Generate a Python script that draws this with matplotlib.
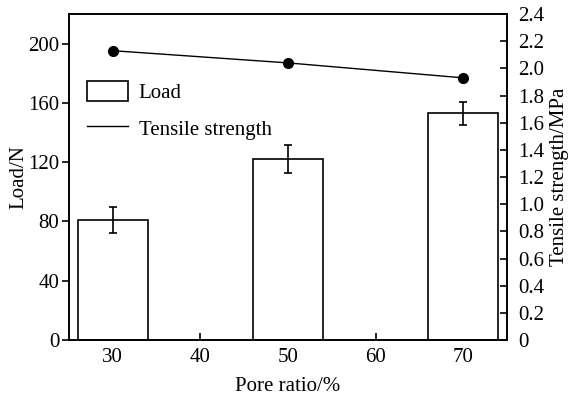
import matplotlib
matplotlib.use("Agg")
import matplotlib.pyplot as plt
from matplotlib.lines import Line2D
from matplotlib.patches import Patch

plt.rcParams['font.family'] = ['Liberation Serif', 'DejaVu Serif']

pore_ratio = [30, 50, 70]
load = [81, 122, 153]
load_err = [8.7, 9.4, 7.8]
tensile = [2.13, 2.04, 1.93]
x_ticks = [30, 40, 50, 60, 70]
load_ticks = [0, 40, 80, 120, 160, 200]
tensile_ticks = [0, 0.2, 0.4, 0.6, 0.8, 1.0, 1.2, 1.4, 1.6, 1.8, 2.0, 2.2, 2.4]
tensile_labels = ['0', '0.2', '0.4', '0.6', '0.8', '1.0', '1.2', '1.4', '1.6', '1.8', '2.0', '2.2', '2.4']

FS = 15

fig = plt.figure(figsize=(5.72, 3.98), dpi=100)
ax = fig.add_axes([0.1206, 0.1457, 0.8864 - 0.1206, 0.9648 - 0.1457])
ax2 = ax.twinx()

ax.bar(pore_ratio, load, width=8, facecolor='white', edgecolor='black',
       linewidth=1.2, yerr=load_err, capsize=3,
       error_kw=dict(ecolor='black', elinewidth=1.2, capthick=1.2),
       label='Load', zorder=2)
ax2.plot(pore_ratio, tensile, color='black', linewidth=1.0, marker='o',
         markersize=7, label='Tensile strength')

ax.set_xlim(25, 75)
ax.set_ylim(0, 220)
ax2.set_ylim(0, 2.4)
ax.set_xticks(x_ticks)
ax.set_yticks(load_ticks)
ax2.set_yticks(tensile_ticks)
ax2.set_yticklabels(tensile_labels)

ax.tick_params(axis='x', direction='in', length=5, labelsize=FS, width=1.2, pad=6)
ax.tick_params(axis='y', direction='out', length=5, labelsize=FS, width=1.2, pad=2)
ax2.tick_params(axis='y', direction='in', length=5, labelsize=FS, width=1.2, pad=8)

for a in (ax, ax2):
    for s in a.spines.values():
        s.set_linewidth(1.2)

ax.set_xlabel('Pore ratio/%', fontsize=FS, labelpad=7)
ax.set_ylabel('Load/N', fontsize=FS, labelpad=0)
ax2.set_ylabel('Tensile strength/MPa', fontsize=FS, labelpad=4)

handles = [Patch(facecolor='white', edgecolor='black', linewidth=1.2),
           Line2D([], [], color='black', linewidth=1.0)]
ax.legend(handles, ['Load', 'Tensile strength'], loc='upper left',
          bbox_to_anchor=(0.007, 0.84), frameon=False, fontsize=FS,
          handlelength=2.0, handleheight=1.1, handletextpad=0.5,
          labelspacing=0.7, borderaxespad=0.3)

fig.savefig('out.png', dpi=100)
